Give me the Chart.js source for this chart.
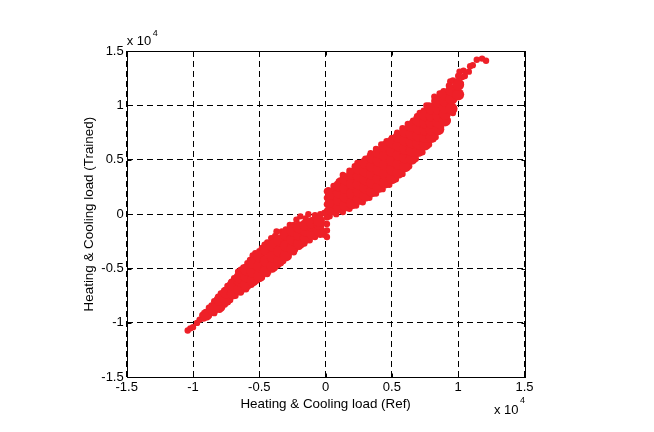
<!DOCTYPE html>
<html><head><meta charset="utf-8">
<script src="https://cdn.jsdelivr.net/npm/chart.js"></script>
<style>html,body{margin:0;padding:0;background:#fff}#wrap{width:654px;height:432px}</style>
</head><body><div id="wrap"><canvas id="c" width="654" height="432"></canvas></div>
<script>
// Values in units of 10^4 (Ref, Trained)
const tickValues = [-1.5,-1,-0.5,0,0.5,1,1.5];
const xTickLabels = ['-1.5','-1','-0.5','0','0.5','1','1.5'];
const yTickLabels = ['-1.5','-1','-0.5','0','0.5','1','1.5'];
const xTitle = 'Heating & Cooling load (Ref)';
const yTitle = 'Heating & Cooling load (Trained)';
const expBase = 'x 10', expPow = '4';

// dense interior of the point cloud (negative side)
const leftCore = [
[-0.9,-0.925],[-0.85,-0.875],
[-0.8,-0.85],[-0.8,-0.79],
[-0.75,-0.79],[-0.75,-0.72],
[-0.7,-0.73],[-0.7,-0.65],
[-0.65,-0.69],[-0.65,-0.61],[-0.65,-0.58],
[-0.6,-0.65],[-0.6,-0.57],[-0.6,-0.51],
[-0.55,-0.61],[-0.55,-0.53],[-0.55,-0.45],
[-0.5,-0.57],[-0.5,-0.48],[-0.5,-0.39],
[-0.45,-0.52],[-0.45,-0.43],[-0.45,-0.33],
[-0.4,-0.48],[-0.4,-0.39],[-0.4,-0.29],
[-0.35,-0.43],[-0.35,-0.34],[-0.35,-0.24],
[-0.3,-0.38],[-0.3,-0.29],[-0.3,-0.19],
[-0.25,-0.32],[-0.25,-0.23],[-0.25,-0.15],
[-0.2,-0.27],[-0.2,-0.19],[-0.2,-0.12],
[-0.15,-0.22],[-0.15,-0.15],[-0.15,-0.1],
[-0.1,-0.18],[-0.1,-0.11],[-0.1,-0.08],
[-0.05,-0.15],[-0.05,-0.09],[-0.05,-0.06]
];
// dense interior of the point cloud (positive side)
const rightCore = [
[0.04,0.04],[0.04,0.115],[0.04,0.19],
[0.1,0.06],[0.1,0.13],[0.1,0.2],[0.1,0.26],
[0.15,0.08],[0.15,0.16],[0.15,0.24],[0.15,0.32],
[0.2,0.1],[0.2,0.19],[0.2,0.28],[0.2,0.37],
[0.25,0.14],[0.25,0.21],[0.25,0.28],[0.25,0.35],[0.25,0.42],
[0.3,0.17],[0.3,0.245],[0.3,0.32],[0.3,0.395],[0.3,0.47],
[0.35,0.21],[0.35,0.29],[0.35,0.37],[0.35,0.44],[0.35,0.52],
[0.4,0.25],[0.4,0.33],[0.4,0.41],[0.4,0.49],[0.4,0.57],
[0.45,0.29],[0.45,0.37],[0.45,0.455],[0.45,0.54],[0.45,0.62],
[0.5,0.33],[0.5,0.41],[0.5,0.495],[0.5,0.58],[0.5,0.66],
[0.55,0.38],[0.55,0.46],[0.55,0.545],[0.55,0.63],[0.55,0.71],
[0.6,0.44],[0.6,0.52],[0.6,0.6],[0.6,0.68],[0.6,0.76],
[0.65,0.51],[0.65,0.585],[0.65,0.66],[0.65,0.735],[0.65,0.81],
[0.7,0.58],[0.7,0.65],[0.7,0.72],[0.7,0.79],[0.7,0.86],
[0.75,0.64],[0.75,0.71],[0.75,0.775],[0.75,0.84],[0.75,0.91],
[0.8,0.71],[0.8,0.775],[0.8,0.84],[0.8,0.905],[0.8,0.97],
[0.85,0.78],[0.85,0.845],[0.85,0.905],[0.85,0.97],[0.85,1.03],
[0.9,0.86],[0.9,0.92],[0.9,0.98],[0.9,1.04],[0.9,1.1],
[0.95,0.97],[0.95,1.06],[0.95,1.14],
[1.0,1.1],[1.0,1.19]
];
// individual points along the edges (negative side)
const leftEdge = [
[-1.04,-1.07],[-1.02,-1.05],[-1.0,-1.04],[-0.97,-1.0],
[-0.95,-0.97],[-0.93,-0.93],[-0.9,-0.9],[-0.88,-0.86],[-0.86,-0.84],[-0.84,-0.8],
[-0.81,-0.76],[-0.79,-0.73],[-0.76,-0.7],[-0.74,-0.66],[-0.71,-0.62],[-0.69,-0.59],
[-0.66,-0.53],[-0.64,-0.51],[-0.62,-0.49],[-0.59,-0.45],[-0.57,-0.42],[-0.55,-0.38],
[-0.53,-0.36],[-0.5,-0.34],[-0.48,-0.31],[-0.46,-0.28],[-0.44,-0.26],[-0.41,-0.22],
[-0.38,-0.2],[-0.37,-0.16],[-0.33,-0.16],[-0.3,-0.14],[-0.27,-0.1],[-0.24,-0.1],
[-0.22,-0.05],[-0.19,-0.02],[-0.15,-0.04],[-0.13,0.0],[-0.08,-0.01],[-0.04,0.0],[-0.01,0.01],
[-0.92,-0.96],[-0.88,-0.93],[-0.84,-0.91],[-0.8,-0.88],[-0.76,-0.83],[-0.72,-0.79],
[-0.68,-0.75],[-0.64,-0.72],[-0.6,-0.69],[-0.56,-0.65],[-0.52,-0.61],[-0.48,-0.58],
[-0.44,-0.55],[-0.4,-0.51],[-0.36,-0.47],[-0.32,-0.43],[-0.28,-0.39],[-0.24,-0.35],
[-0.2,-0.3],[-0.16,-0.27],[-0.12,-0.24],[-0.08,-0.21],[-0.04,-0.19],[-0.01,-0.19]
];
// points near Ref = 0
const zeroEdge = [
[0.01,-0.21],[0.01,-0.15],[0.01,-0.09],[0.01,-0.03],[0.01,0.03],[0.01,0.09],[0.01,0.15],[0.01,0.21]
];
// individual points along the edges (positive side)
const rightEdge = [
[0.02,0.22],[0.06,0.26],[0.1,0.3],[0.14,0.35],[0.18,0.4],[0.22,0.44],[0.26,0.47],
[0.3,0.51],[0.34,0.56],[0.38,0.6],[0.42,0.64],[0.46,0.67],[0.5,0.7],[0.54,0.75],
[0.58,0.79],[0.62,0.83],[0.66,0.86],[0.7,0.9],[0.74,0.95],[0.78,1.0],[0.82,1.04],
[0.86,1.08],[0.89,1.13],[0.93,1.18],
[0.11,0.31],[0.13,0.36],[0.15,0.31],[0.22,0.42],[0.24,0.47],[0.31,0.5],[0.41,0.57],
[0.42,0.54],[0.47,0.65],[0.56,0.73],[0.69,0.9],[0.71,0.93],[0.76,1.0],[0.82,1.08],
[0.91,1.11],[0.96,1.14],[0.9,0.84],[0.87,0.8],
[0.03,-0.02],[0.08,0.0],[0.13,0.02],[0.18,0.05],[0.23,0.08],[0.28,0.11],[0.33,0.15],
[0.38,0.19],[0.43,0.23],[0.48,0.27],[0.53,0.32],[0.58,0.37],[0.63,0.44],[0.68,0.51],
[0.73,0.57],[0.78,0.64],[0.83,0.71],[0.92,0.86],[0.96,0.93]
];
// sparse points at the top end
const topDots = [
[0.91,1.02],[0.96,1.05],[0.98,1.17],[0.86,1.11],[0.94,1.22],[0.96,1.23],[0.99,1.22],
[1.03,1.26],[1.01,1.31],[1.04,1.32],[1.08,1.31],[1.09,1.36],[1.11,1.37],[1.14,1.42],
[1.18,1.43],[1.21,1.41],[1.02,1.2],[1.05,1.27],[1.0,1.27]
];

const red = 'rgb(238,32,40)';
const toXY = arr => arr.map(p => ({x:p[0], y:p[1]}));
const ds = (label, arr, r) => ({label, data: toXY(arr), pointRadius: r, pointBackgroundColor: red,
  pointBorderWidth: 0, pointHoverRadius: r, showLine: false});

const FONT = '"Liberation Sans", Arial, Helvetica, sans-serif';

const framePlugin = {
  id: 'frame',
  afterDatasetsDraw(chart) {
    const {ctx, chartArea: a, scales: {x, y}} = chart;
    ctx.save();
    ctx.strokeStyle = '#000'; ctx.lineWidth = 1; ctx.setLineDash([]);
    const L = Math.round(a.left) + 0.5, R = Math.round(a.right) + 0.5;
    const T = Math.round(a.top) + 0.5, B = Math.round(a.bottom) + 0.5;
    ctx.strokeRect(L, T, R - L, B - T);
    ctx.beginPath();
    tickValues.forEach(v => {
      const px = Math.round(x.getPixelForValue(v)) + 0.5;
      ctx.moveTo(px, B); ctx.lineTo(px, B - 4);
      ctx.moveTo(px, T); ctx.lineTo(px, T + 4);
      const py = Math.round(y.getPixelForValue(v)) + 0.5;
      ctx.moveTo(L, py); ctx.lineTo(L + 4, py);
      ctx.moveTo(R, py); ctx.lineTo(R - 4, py);
    });
    ctx.stroke();
    ctx.fillStyle = '#000'; ctx.textAlign = 'left'; ctx.textBaseline = 'alphabetic';
    ctx.font = '13px ' + FONT;
    const w = ctx.measureText(expBase).width;
    ctx.fillText(expBase, a.left, a.top - 6);
    ctx.fillText(expBase, a.right - 30.5, a.bottom + 37);
    ctx.font = '9px ' + FONT;
    ctx.fillText(expPow, a.left + w + 1.5, a.top - 15.5);
    ctx.fillText(expPow, a.right - 30.5 + w + 1.5, a.bottom + 26);
    ctx.restore();
  }
};

const gridOpts = {color: '#000', lineWidth: 1, drawTicks: false};
const borderOpts = {display: false, dash: [6, 4]};

new Chart(document.getElementById('c'), {
  type: 'scatter',
  data: {datasets: [
    ds('core-', leftCore, 6), ds('core+', rightCore, 6),
    ds('edge-', leftEdge, 3.2), ds('zero', zeroEdge, 3.2),
    ds('edge+', rightEdge, 3.2), ds('top', topDots, 3.2)
  ]},
  options: {
    responsive: false, animation: false, events: [],
    layout: {padding: {left: 0, top: 51, right: 129.5, bottom: 0}},
    plugins: {legend: {display: false}, tooltip: {enabled: false}},
    scales: {
      x: {
        type: 'linear', min: -1.5, max: 1.5,
        afterBuildTicks: s => { s.ticks = tickValues.map(v => ({value: v})); },
        afterFit: s => { s.height = 54.7; },
        grid: gridOpts, border: borderOpts,
        ticks: {color: '#000', padding: 2, font: {family: FONT, size: 13},
          callback: (v, i) => xTickLabels[i], maxRotation: 0, autoSkip: false},
        title: {display: true, text: xTitle, color: '#000', font: {family: FONT, size: 13.4},
          padding: {top: 0, bottom: 20}}
      },
      y: {
        type: 'linear', min: -1.5, max: 1.5,
        afterBuildTicks: s => { s.ticks = tickValues.map(v => ({value: v})); },
        afterFit: s => { s.width = 126.7; },
        grid: gridOpts, border: borderOpts,
        ticks: {color: '#000', padding: 3, font: {family: FONT, size: 13},
          callback: (v, i) => yTickLabels[i], autoSkip: false},
        title: {display: true, text: yTitle, color: '#000', font: {family: FONT, size: 13.4},
          padding: {top: 81, bottom: 0}}
      }
    }
  },
  plugins: [framePlugin]
});
</script></body></html>
